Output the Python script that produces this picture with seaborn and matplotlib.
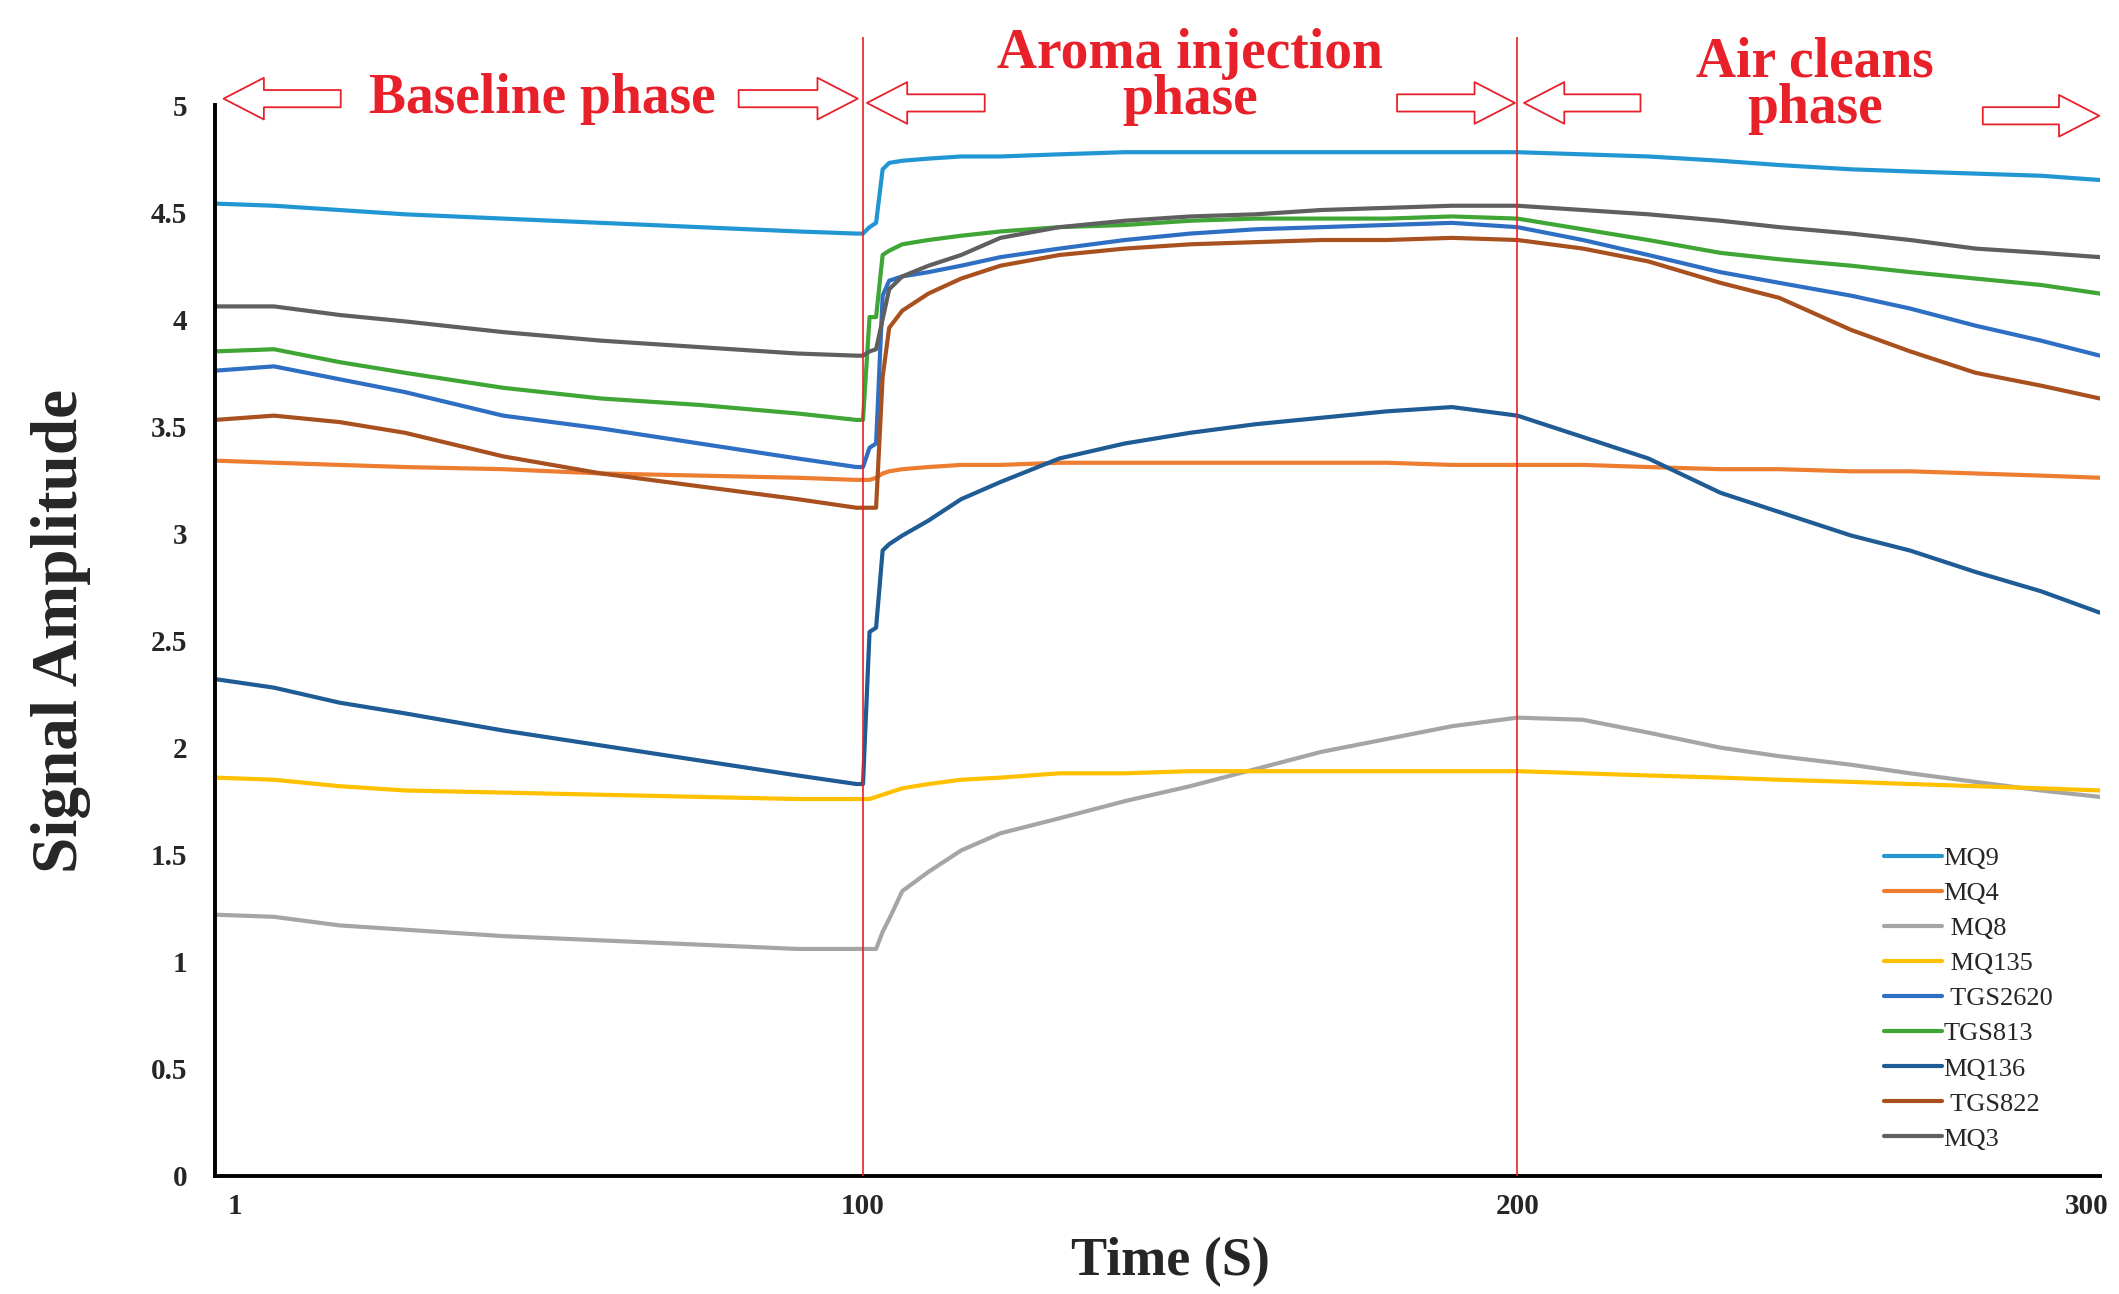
import pandas as pd
import seaborn as sns
import matplotlib.pyplot as plt

sns.set_style("white")
plt.rcParams["font.family"] = ["Liberation Serif", "DejaVu Serif"]

# Sample times (s)
time_s = [1, 10, 20, 30, 45, 60, 75, 90, 99, 100, 101, 102, 103, 104, 106, 110, 115, 121,
          130, 140, 150, 160, 170, 180, 190, 200, 210, 220, 231, 240, 251, 260, 270, 280, 289]

mq9 = [4.54, 4.53, 4.51, 4.49, 4.47, 4.45, 4.43, 4.41, 4.40, 4.40, 4.43, 4.45, 4.70, 4.73, 4.74, 4.75, 4.76, 4.76,
       4.77, 4.78, 4.78, 4.78, 4.78, 4.78, 4.78, 4.78, 4.77, 4.76, 4.74, 4.72, 4.70, 4.69, 4.68, 4.67, 4.65]
mq4 = [3.34, 3.33, 3.32, 3.31, 3.30, 3.28, 3.27, 3.26, 3.25, 3.25, 3.25, 3.26, 3.28, 3.29, 3.30, 3.31, 3.32, 3.32,
       3.33, 3.33, 3.33, 3.33, 3.33, 3.33, 3.32, 3.32, 3.32, 3.31, 3.30, 3.30, 3.29, 3.29, 3.28, 3.27, 3.26]
mq8 = [1.22, 1.21, 1.17, 1.15, 1.12, 1.10, 1.08, 1.06, 1.06, 1.06, 1.06, 1.06, 1.14, 1.20, 1.33, 1.42, 1.52, 1.60,
       1.67, 1.75, 1.82, 1.90, 1.98, 2.04, 2.10, 2.14, 2.13, 2.07, 2.00, 1.96, 1.92, 1.88, 1.84, 1.80, 1.77]
mq135 = [1.86, 1.85, 1.82, 1.80, 1.79, 1.78, 1.77, 1.76, 1.76, 1.76, 1.76, 1.77, 1.78, 1.79, 1.81, 1.83, 1.85, 1.86,
         1.88, 1.88, 1.89, 1.89, 1.89, 1.89, 1.89, 1.89, 1.88, 1.87, 1.86, 1.85, 1.84, 1.83, 1.82, 1.81, 1.80]
tgs2620 = [3.76, 3.78, 3.72, 3.66, 3.55, 3.49, 3.42, 3.35, 3.31, 3.31, 3.40, 3.42, 4.11, 4.18, 4.20, 4.22, 4.25, 4.29,
           4.33, 4.37, 4.40, 4.42, 4.43, 4.44, 4.45, 4.43, 4.37, 4.30, 4.22, 4.17, 4.11, 4.05, 3.97, 3.90, 3.83]
tgs813 = [3.85, 3.86, 3.80, 3.75, 3.68, 3.63, 3.60, 3.56, 3.53, 3.53, 4.01, 4.01, 4.30, 4.32, 4.35, 4.37, 4.39, 4.41,
          4.43, 4.44, 4.46, 4.47, 4.47, 4.47, 4.48, 4.47, 4.42, 4.37, 4.31, 4.28, 4.25, 4.22, 4.19, 4.16, 4.12]
mq136 = [2.32, 2.28, 2.21, 2.16, 2.08, 2.01, 1.94, 1.87, 1.83, 1.83, 2.54, 2.56, 2.92, 2.95, 2.99, 3.06, 3.16, 3.24,
         3.35, 3.42, 3.47, 3.51, 3.54, 3.57, 3.59, 3.55, 3.45, 3.35, 3.19, 3.10, 2.99, 2.92, 2.82, 2.73, 2.63]
tgs822 = [3.53, 3.55, 3.52, 3.47, 3.36, 3.28, 3.22, 3.16, 3.12, 3.12, 3.12, 3.12, 3.73, 3.96, 4.04, 4.12, 4.19, 4.25,
          4.30, 4.33, 4.35, 4.36, 4.37, 4.37, 4.38, 4.37, 4.33, 4.27, 4.17, 4.10, 3.95, 3.85, 3.75, 3.69, 3.63]
mq3 = [4.06, 4.06, 4.02, 3.99, 3.94, 3.90, 3.87, 3.84, 3.83, 3.83, 3.85, 3.86, 4.00, 4.14, 4.20, 4.25, 4.30, 4.38,
       4.43, 4.46, 4.48, 4.49, 4.51, 4.52, 4.53, 4.53, 4.51, 4.49, 4.46, 4.43, 4.40, 4.37, 4.33, 4.31, 4.29]

sensors = ["MQ9", "MQ4", "MQ8", "MQ135", "TGS2620", "TGS813", "MQ136", "TGS822", "MQ3"]
legend_labels = ["MQ9", "MQ4", " MQ8", " MQ135", " TGS2620", "TGS813", "MQ136", " TGS822", "MQ3"]
series = [mq9, mq4, mq8, mq135, tgs2620, tgs813, mq136, tgs822, mq3]

colors = {
    "MQ9": "#2196d3",
    "MQ4": "#ed7d31",
    "MQ8": "#a5a5a5",
    "MQ135": "#ffc000",
    "TGS2620": "#2e6fc4",
    "TGS813": "#3fa535",
    "MQ136": "#1f5b94",
    "TGS822": "#a9501f",
    "MQ3": "#5f5f5f",
}

x_ticks = [4, 100, 200, 287]
x_tick_labels = ["1", "100", "200", "300"]
y_ticks = [0, 0.5, 1, 1.5, 2, 2.5, 3, 3.5, 4, 4.5, 5]
y_tick_labels = ["0", "0.5", "1", "1.5", "2", "2.5", "3", "3.5", "4", "4.5", "5"]
phase_bounds = [100, 200]

df = pd.concat(
    [pd.DataFrame({"Time": time_s, "Signal": vals, "Sensor": name}) for name, vals in zip(sensors, series)],
    ignore_index=True,
)

red = "#e8202a"

fig = plt.figure(figsize=(21.19, 12.94), dpi=100)
ax = fig.add_axes([0.1015, 0.0912, 0.8895, 0.8276])

sns.lineplot(data=df, x="Time", y="Signal", hue="Sensor", hue_order=sensors,
             palette=colors, linewidth=3, ax=ax)

ax.set_xlim(1, 289)
ax.set_ylim(0, 5)
ax.set_xticks(x_ticks)
ax.set_xticklabels(x_tick_labels, fontsize=21, fontweight="bold")
ax.set_yticks(y_ticks)
ax.set_yticklabels(y_tick_labels, fontsize=21, fontweight="bold")
ax.tick_params(length=0)
ax.tick_params(axis="y", pad=20)
ax.tick_params(axis="x", pad=12)

for side in ["top", "right"]:
    ax.spines[side].set_visible(False)
for side in ["left", "bottom"]:
    ax.spines[side].set_color("black")
    ax.spines[side].set_linewidth(2.8)

ax.set_xlabel("Time (S)", fontsize=39, fontweight="bold")
ax.xaxis.set_label_coords(0.507, -0.057)
ax.set_ylabel("Signal Amplitude", fontsize=47, fontweight="bold")
ax.yaxis.set_label_coords(-0.066, 0.509)

# phase separators
ax.vlines(phase_bounds, 0, 5.32, color=red, lw=1.2, clip_on=False, zorder=5)

# phase titles
ax.text(51, 5.03, "Baseline phase", color=red, fontsize=40, fontweight="bold",
        ha="center", va="center", clip_on=False)
ax.text(150, 5.13, "Aroma injection\nphase", color=red, fontsize=40, fontweight="bold",
        ha="center", va="center", linespacing=0.85, clip_on=False)
ax.text(245.5, 5.09, "Air cleans\nphase", color=red, fontsize=40, fontweight="bold",
        ha="center", va="center", linespacing=0.85, clip_on=False)

# hollow block arrows (tail, tip, height)
arrows = [
    (20.2, 2.3, 5.03), (81, 99.2, 5.03),
    (118.6, 100.6, 5.01), (181.6, 199.6, 5.01),
    (218.8, 201, 5.01), (271.1, 288.9, 4.95),
]
for tail, tip, yy in arrows:
    ax.annotate("", xy=(tip, yy), xytext=(tail, yy), annotation_clip=False,
                arrowprops=dict(arrowstyle="simple,head_length=1.45,head_width=1.5,tail_width=0.62",
                                fc="white", ec=red, lw=1.3, shrinkA=0, shrinkB=0,
                                mutation_scale=20))

handles, _ = ax.get_legend_handles_labels()
ax.legend(handles, legend_labels, loc="upper left", bbox_to_anchor=(0.883, 0.356),
          bbox_transform=fig.transFigure, frameon=False, fontsize=19,
          handlelength=2.2, handletextpad=0.05, labelspacing=0.44, borderpad=0)

fig.savefig("out.png", dpi=100)
